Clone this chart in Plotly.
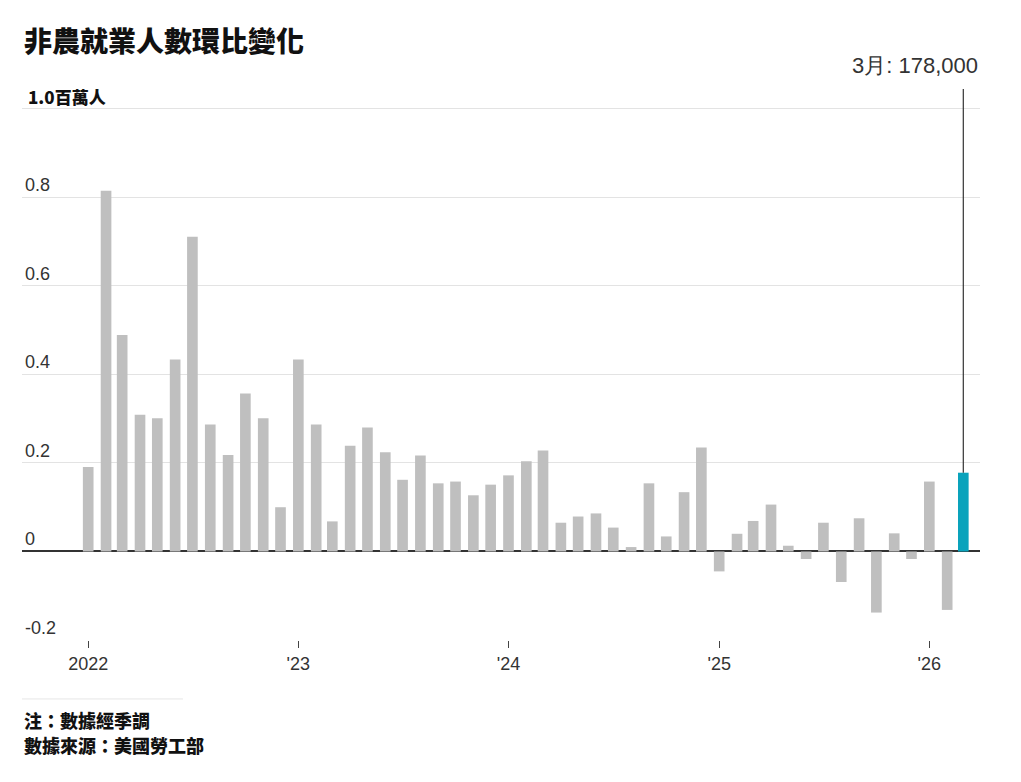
import plotly.graph_objects as go

months = [f"{y}-{m:02d}-01" for y in range(2022, 2027) for m in range(1, 13)][:51]
values = [
    0.191, 0.815, 0.489, 0.309, 0.301, 0.434, 0.711, 0.287, 0.218, 0.357, 0.301, 0.100,
    0.434, 0.287, 0.068, 0.239, 0.280, 0.224, 0.162, 0.217, 0.154, 0.158, 0.127, 0.151,
    0.172, 0.204, 0.228, 0.065, 0.079, 0.086, 0.054, 0.010, 0.154, 0.034, 0.134, 0.235,
    -0.045, 0.040, 0.069, 0.106, 0.013, -0.017, 0.065, -0.069, 0.075, -0.138, 0.041, -0.017,
    0.158, -0.132, 0.178,
]
tick_dates = ["2022-01-01", "2023-01-01", "2024-01-01", "2025-01-01", "2026-01-01"]
tick_labels = ["2022", "'23", "'24", "'25", "'26"]
y_ticks = [-0.2, 0, 0.2, 0.4, 0.6, 0.8, 1.0]
y_labels = ["-0.2", "0", "0.2", "0.4", "0.6", "0.8", ""]
title = "非農就業人數環比變化"
unit_label = "1.0百萬人"
callout = "3月: 178,000"
notes = ["注：數據經季調", "數據來源：美國勞工部"]

GRAY = "#bfbfbf"
TEAL = "#0aa3bc"
colors = [GRAY] * (len(values) - 1) + [TEAL]
DAY = 86400000
CJK = "Noto Sans CJK TC"

fig = go.Figure()
fig.add_trace(go.Bar(
    x=months, y=values, marker=dict(color=colors, line=dict(width=0)),
    width=[18.5 * DAY] * len(values), hoverinfo="skip",
))

fig.update_layout(
    width=1013, height=774,
    margin=dict(l=14, r=41, t=81, b=142),
    paper_bgcolor="white", plot_bgcolor="white",
    showlegend=False,
    font=dict(family="Liberation Sans, Arial, sans-serif", color="#333333", size=18),
    xaxis=dict(
        type="date", range=["2021-09-08", "2026-03-30"],
        tickvals=tick_dates, ticktext=tick_labels,
        ticks="outside", ticklen=7, tickwidth=1, tickcolor="#444444",
        showgrid=False, showline=False, zeroline=False,
        tickfont=dict(size=18, color="#333333"),
    ),
    yaxis=dict(
        range=[-0.2, 1.045], tickvals=y_ticks, ticktext=y_labels,
        ticklabelposition="inside top", ticks="",
        showgrid=True, gridcolor="#e3e3e3", gridwidth=1,
        zeroline=True, zerolinecolor="#333333", zerolinewidth=1.5,
        showline=False, tickfont=dict(size=18, color="#333333"),
    ),
)

fig.add_annotation(
    xref="paper", yref="paper", x=0, y=1.089, xanchor="left", yanchor="middle",
    text=title, showarrow=False,
    font=dict(family=CJK, size=28, color="#111111", weight=900),
)
fig.add_annotation(
    xref="paper", yref="y", x=0, y=1.0, xanchor="left", yanchor="bottom",
    text=unit_label, showarrow=False, xshift=4, yshift=-2,
    font=dict(family=CJK, size=17, color="#111111", weight=900),
)
# callout line and label for the last bar
fig.add_shape(
    type="line", xref="x", yref="y", x0=months[-1], x1=months[-1],
    y0=values[-1], y1=1.045, line=dict(color="#333333", width=1.2),
)
fig.add_annotation(
    xref="paper", yref="paper", x=1.0, y=1.042, xanchor="right", yanchor="middle",
    text=callout, showarrow=False,
    font=dict(family="Liberation Sans, Arial", size=22, color="#333333"),
)
# footer separator and notes
fig.add_shape(
    type="line", xref="paper", yref="paper", x0=0, x1=0.168, y0=-0.107, y1=-0.107,
    line=dict(color="#e6e6e6", width=1),
)
for i, t in enumerate(notes):
    fig.add_annotation(
        xref="paper", yref="paper", x=0, y=-0.145 - i * 0.0455, xanchor="left", yanchor="middle",
        text=t, showarrow=False, xshift=0,
        font=dict(family=CJK, size=18, color="#111111", weight=900),
    )

fig.write_html("out.html")
